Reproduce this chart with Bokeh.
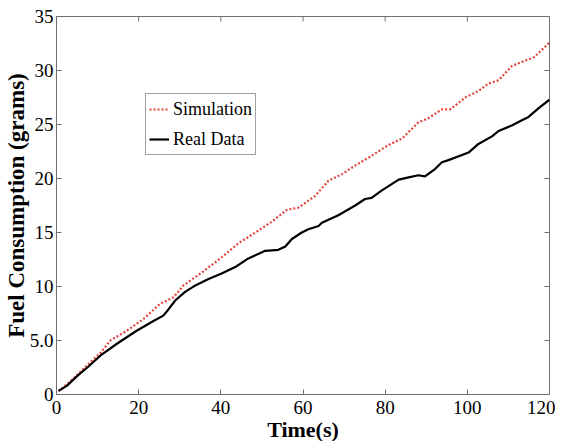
import math
from bokeh.plotting import figure
from bokeh.models import Range1d, FixedTicker, Legend, LegendItem
from bokeh.embed import file_html
from bokeh.resources import INLINE

# ---- data ----
sim_t = [0.5, 4.1, 7.4, 10.6, 13.1, 17.1, 21.2, 25.2, 28.5, 30.9, 35.4, 40.2, 44.3,
         48.4, 52.4, 56.1, 58.9, 63.0, 66.2, 69.5, 72.7, 76.7, 80.8, 84.1, 88.1,
         90.6, 93.8, 95.8, 99.5, 102.7, 105.2, 107.6, 110.8, 113.3, 116.1, 118.1, 120.0]
sim_fuel = [0.3, 1.45, 2.7, 3.8, 5.0, 5.9, 7.0, 8.4, 9.0, 10.1, 11.3, 12.7, 14.0,
            15.0, 16.0, 17.1, 17.3, 18.4, 19.8, 20.4, 21.2, 22.1, 23.1, 23.7, 25.2,
            25.6, 26.4, 26.4, 27.5, 28.1, 28.8, 29.1, 30.4, 30.8, 31.2, 31.9, 32.6]

real_t = [0.5, 1.0, 2.5, 5.0, 7.5, 11.0, 14.7, 19.5, 23.6, 26.0, 27.3, 28.9, 31.3,
          33.8, 37.0, 40.2, 43.5, 46.7, 50.8, 54.0, 55.7, 57.3, 59.7, 61.3, 63.8,
          64.6, 68.6, 72.7, 75.1, 76.7, 79.2, 83.3, 85.7, 88.1, 89.7, 92.2, 93.8,
          95.4, 100.3, 102.7, 106.0, 107.6, 110.8, 113.3, 114.9, 117.3, 120.0]
real_fuel = [0.35, 0.45, 0.8, 1.7, 2.5, 3.7, 4.7, 5.9, 6.8, 7.3, 7.9, 8.7, 9.5,
             10.1, 10.7, 11.2, 11.8, 12.6, 13.3, 13.4, 13.7, 14.4, 15.0, 15.3, 15.6,
             15.9, 16.6, 17.5, 18.1, 18.2, 18.9, 19.9, 20.1, 20.3, 20.2, 20.9, 21.5,
             21.7, 22.4, 23.2, 23.9, 24.4, 24.9, 25.4, 25.7, 26.5, 27.3]

x_ticks = [0, 20, 40, 60, 80, 100, 120]
y_ticks = [0, 5, 10, 15, 20, 25, 30, 35]
y_tick_labels = {0: "0", 5: "5.0", 10: "10", 15: "15", 20: "20", 25: "25", 30: "30", 35: "35"}
x_min, x_max = 0, 120
y_min, y_max = 0, 35

FONT = "Liberation Serif"
AXIS_GRAY = "#707070"

p = figure(frame_width=493, frame_height=378, output_backend="svg", toolbar_location=None,
           x_range=Range1d(x_min, x_max), y_range=Range1d(y_min, y_max),
           min_border_left=50, min_border_right=6, min_border_top=16, min_border_bottom=40,
           background_fill_color="white", border_fill_color="white")
p.xgrid.visible = False
p.ygrid.visible = False
p.outline_line_color = AXIS_GRAY
p.outline_line_width = 1

for ax in (p.xaxis[0], p.yaxis[0]):
    ax.major_tick_in = 5
    ax.major_tick_out = 0
    ax.minor_tick_in = 0
    ax.minor_tick_out = 0
    ax.axis_line_color = AXIS_GRAY
    ax.major_tick_line_color = AXIS_GRAY
    ax.major_label_text_font = FONT
    ax.major_label_text_font_size = "19px"
    ax.major_label_text_color = "black"
    ax.axis_label_text_font = FONT
    ax.axis_label_text_font_style = "bold"
    ax.axis_label_text_color = "black"

xa = p.xaxis[0]
ya = p.yaxis[0]
xa.ticker = FixedTicker(ticks=x_ticks)
ya.ticker = FixedTicker(ticks=y_ticks)
ya.major_label_overrides = y_tick_labels
xa.axis_label = "Time(s)"
ya.axis_label = "Fuel Consumption (grams)"
xa.axis_label_text_font_size = "22px"
ya.axis_label_text_font_size = "23px"
xa.major_label_standoff = 6
xa.axis_label_standoff = 0
ya.major_label_standoff = 3
ya.axis_label_standoff = -2

# mirrored inward ticks on top and right edges
p.ray(x=x_ticks, y=[y_max] * len(x_ticks), length=5, length_units="screen",
      angle=-math.pi / 2, line_color=AXIS_GRAY, line_width=1)
p.ray(x=[x_max] * len(y_ticks), y=y_ticks, length=5, length_units="screen",
      angle=math.pi, line_color=AXIS_GRAY, line_width=1)

r_sim = p.line(sim_t, sim_fuel, line_color="#e5433d", line_width=2.2, line_dash="2 2")
r_real = p.line(real_t, real_fuel, line_color="black", line_width=2.2)

legend = Legend(items=[LegendItem(label="Simulation", renderers=[r_sim]),
                       LegendItem(label="Real Data", renderers=[r_real])],
                location=(89, 239))
legend.label_text_font = FONT
legend.label_text_font_size = "18px"
legend.label_text_color = "black"
legend.glyph_width = 20
legend.glyph_height = 24
legend.label_height = 24
legend.label_standoff = 4
legend.spacing = 6
legend.padding = 3
legend.margin = 0
legend.border_line_color = "#404040"
legend.border_line_width = 1
legend.background_fill_color = "white"
legend.background_fill_alpha = 1.0
p.add_layout(legend, "center")

open("out.html", "w").write(file_html(p, INLINE))
